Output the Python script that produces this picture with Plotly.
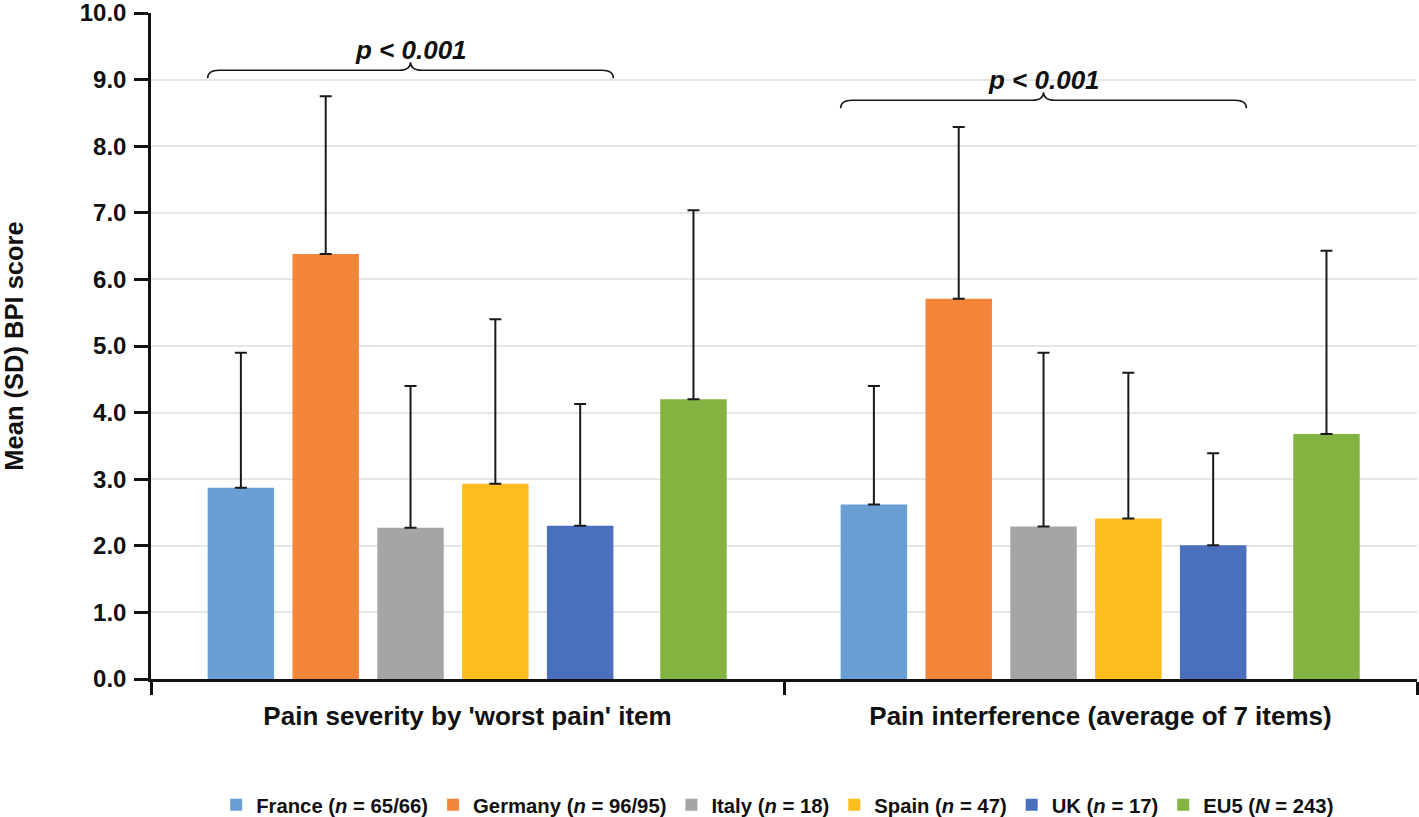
import plotly.graph_objects as go

FONT = "Liberation Sans"

categories = ["Pain severity by 'worst pain' item", "Pain interference (average of 7 items)"]
countries = ["France", "Germany", "Italy", "Spain", "UK", "EU5"]
legend_names = [
    "France (<i>n</i> = 65/66)",
    "Germany (<i>n</i> = 96/95)",
    "Italy (<i>n</i> = 18)",
    "Spain (<i>n</i> = 47)",
    "UK (<i>n</i> = 17)",
    "EU5 (<i>N</i> = 243)",
]

# mean and SD per country, [severity, interference]
mean_france = [2.87, 2.62]
mean_germany = [6.38, 5.71]
mean_italy = [2.27, 2.29]
mean_spain = [2.93, 2.41]
mean_uk = [2.30, 2.01]
mean_eu5 = [4.20, 3.68]

sd_france = [2.03, 1.78]
sd_germany = [2.37, 2.58]
sd_italy = [2.13, 2.61]
sd_spain = [2.47, 2.19]
sd_uk = [1.83, 1.38]
sd_eu5 = [2.84, 2.75]

p_labels = ["p < 0.001", "p < 0.001"]
y_ticks = [0, 1, 2, 3, 4, 5, 6, 7, 8, 9, 10]

means = [mean_france, mean_germany, mean_italy, mean_spain, mean_uk, mean_eu5]
sds = [sd_france, sd_germany, sd_italy, sd_spain, sd_uk, sd_eu5]
colors = ["#6A9FD4", "#F4853A", "#A5A5A5", "#FDBD1C", "#4A70BD", "#83B341"]

# bar offsets within a group (group width = 1)
offsets = [-0.358, -0.224, -0.090, 0.044, 0.178, 0.357]
bar_w = 0.105

fig = go.Figure()
for name, m, s, c, off in zip(legend_names, means, sds, colors, offsets):
    fig.add_trace(go.Bar(
        x=[i + off for i in range(len(categories))], y=m,
        width=bar_w, name=name,
        marker=dict(color=c, line_width=0),
        error_y=dict(type="data", array=s, arrayminus=[0] * len(s), symmetric=False,
                     color="#1a1a1a", thickness=2, width=6),
    ))

# braces + p-value labels
brace_y = [9.14, 8.69]
for i, (lbl, yb) in enumerate(zip(p_labels, brace_y)):
    x0 = i + offsets[0] - bar_w / 2
    x1 = i + offsets[4] + bar_w / 2
    xm = (x0 + x1) / 2
    d, h = 0.018, 0.12
    path = (f"M {x0},{yb - h} Q {x0},{yb} {x0 + d},{yb} "
            f"L {xm - d},{yb} Q {xm},{yb} {xm},{yb + h} "
            f"Q {xm},{yb} {xm + d},{yb} "
            f"L {x1 - d},{yb} Q {x1},{yb} {x1},{yb - h}")
    fig.add_shape(type="path", path=path, xref="x", yref="y",
                  line=dict(color="#1a1a1a", width=1.6))
    fig.add_annotation(x=xm, y=yb + 0.31, xref="x", yref="y",
                       text=f"<b><i>{lbl}</i></b>", showarrow=False,
                       font=dict(family=FONT, size=26, color="#111111"))

fig.update_layout(
    width=1419, height=817,
    paper_bgcolor="white", plot_bgcolor="white",
    margin=dict(l=151, r=2, t=13, b=138),
    barmode="overlay",
    font=dict(family=FONT, color="#111111"),
    xaxis=dict(
        range=[-0.5, 1.5], tickvals=[0, 1], ticktext=categories,
        ticks="", showgrid=False, zeroline=False, automargin=False,
        showline=True, linecolor="#111111", linewidth=2.5,
        tickfont=dict(family=FONT, size=26, color="#111111", weight="bold"),
        ticklabelstandoff=12,
        minor=dict(tickmode="array", tickvals=[-0.5, 0.5, 1.5], ticks="outside",
                   ticklen=13, tickwidth=2.5, tickcolor="#111111", showgrid=False),
    ),
    yaxis=dict(
        range=[0, 10], tickmode="array", tickvals=y_ticks, tickformat=".1f",
        showgrid=True, gridcolor="#E6E6E6", gridwidth=2, zeroline=False,
        showline=True, linecolor="#111111", linewidth=2.5, automargin=False,
        ticks="outside", ticklen=14, tickwidth=3, tickcolor="#111111",
        ticklabelstandoff=3, ticklabeloverflow="allow",
        tickfont=dict(family=FONT, size=24, color="#111111", weight="bold"),
        title=dict(text="Mean (SD) BPI score", standoff=64,
                   font=dict(family=FONT, size=25.5, color="#111111", weight="bold")),
    ),
    legend=dict(orientation="h", x=0.495, xanchor="center", xref="paper",
                y=0.0147, yanchor="middle", yref="container",
                font=dict(family=FONT, size=20.3, color="#111111", weight="bold"),
                itemwidth=30, traceorder="normal"),
    showlegend=True,
)

fig.write_html("out.html", config={"displayModeBar": False},
               post_script="document.body.style.margin='0';")
